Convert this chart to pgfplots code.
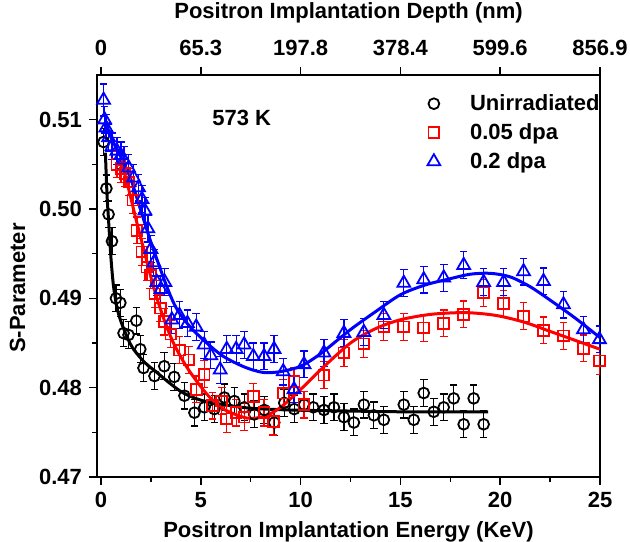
\documentclass[border=0pt]{standalone}
\usepackage{pgfplots}
\pgfplotsset{compat=1.18}
\usepackage{fontspec}
\setmainfont{Liberation Sans}
\begin{document}
\begin{tikzpicture}
\tikzset{myfont/.style={font=\fontsize{11}{12}\selectfont\bfseries}}
\pgfplotsset{
  dataerr/.style={error bars/.cd, y dir=both, y explicit,
     error bar style={line width=0.6pt},
     error mark options={rotate=90, line width=0.6pt, mark size=1.9pt, #1}},
  mylegimg/.style={legend image code/.code={%
     \path (0cm,0cm) (0.6cm,0cm);
     \draw[##1] plot coordinates {(0.05cm,0cm)};}},
}
\begin{axis}[name=ax, scale only axis, width=251.5pt, height=201pt,
  xmin=-0.2, xmax=25, ymin=0.47, ymax=0.515,
  xtick={0,5,10,15,20,25}, minor x tick num=1,
  ytick={0.47,0.48,0.49,0.50,0.51}, minor y tick num=1,
  xtick pos=lower, ytick pos=left, tick align=outside,
  major tick length=4pt, minor tick length=2.5pt,
  every tick/.style={black, line width=0.8pt},
  axis line style={line width=0.8pt},
  scaled y ticks=false,
  yticklabel style={/pgf/number format/.cd, fixed, fixed zerofill, precision=2},
  /pgf/number format/assume math mode=true,
  tick label style={myfont},
  label style={myfont},
  xlabel={Positron Implantation Energy (KeV)},
  ylabel={S-Parameter},
  ylabel style={at={(ticklabel cs:0.47)}},
  legend style={at={(1.02,0.973)}, anchor=north east, draw=none, fill=none, myfont, row sep=1pt},
  legend cell align=left,
]
\addplot[mylegimg, only marks, black, mark=o, mark size=2.7pt, line width=0.9pt, dataerr=black] coordinates {
(0.13,0.5075) +- (0,0.0015)
(0.27,0.5023) +- (0,0.0015)
(0.38,0.4994) +- (0,0.0015)
(0.55,0.4964) +- (0,0.0015)
(0.75,0.4900) +- (0,0.0015)
(0.97,0.4895) +- (0,0.0015)
(1.13,0.4861) +- (0,0.0015)
(1.38,0.4859) +- (0,0.0015)
(1.77,0.4875) +- (0,0.0015)
(1.97,0.4843) +- (0,0.0015)
(2.13,0.4822) +- (0,0.0015)
(2.68,0.4813) +- (0,0.0015)
(3.17,0.4824) +- (0,0.0015)
(3.67,0.4812) +- (0,0.0015)
(4.18,0.4791) +- (0,0.0015)
(4.68,0.4772) +- (0,0.0015)
(5.18,0.4778) +- (0,0.0015)
(5.68,0.4776) +- (0,0.0015)
(6.18,0.4789) +- (0,0.0015)
(6.68,0.4785) +- (0,0.0015)
(7.18,0.4778) +- (0,0.0015)
(7.68,0.4770) +- (0,0.0015)
(8.18,0.4775) +- (0,0.0015)
(8.68,0.4761) +- (0,0.0015)
(9.18,0.4783) +- (0,0.0015)
(9.68,0.4776) +- (0,0.0015)
(10.18,0.4781) +- (0,0.0015)
(10.63,0.4778) +- (0,0.0015)
(11.17,0.4775) +- (0,0.0015)
(11.67,0.4778) +- (0,0.0015)
(12.17,0.4767) +- (0,0.0015)
(12.67,0.4761) +- (0,0.0015)
(13.17,0.4781) +- (0,0.0015)
(13.67,0.4769) +- (0,0.0015)
(14.17,0.4764) +- (0,0.0015)
(15.17,0.4781) +- (0,0.0015)
(15.67,0.4764) +- (0,0.0015)
(16.17,0.4794) +- (0,0.0015)
(16.67,0.4773) +- (0,0.0015)
(17.17,0.4778) +- (0,0.0015)
(17.67,0.4788) +- (0,0.0015)
(18.17,0.4759) +- (0,0.0015)
(18.67,0.4788) +- (0,0.0015)
(19.17,0.4759) +- (0,0.0015)
};
\addlegendentry{Unirradiated}
\addplot[mylegimg, only marks, red, mark=square, mark size=2.7pt, line width=0.9pt, dataerr=red] coordinates {
(0.80,0.5050) +- (0,0.0015)
(1.00,0.5045) +- (0,0.0015)
(1.20,0.5040) +- (0,0.0015)
(1.40,0.5030) +- (0,0.0015)
(1.60,0.5010) +- (0,0.0015)
(1.80,0.4976) +- (0,0.0015)
(2.05,0.4952) +- (0,0.0015)
(2.30,0.4935) +- (0,0.0015)
(2.47,0.4926) +- (0,0.0015)
(2.70,0.4905) +- (0,0.0015)
(2.97,0.4889) +- (0,0.0015)
(3.17,0.4874) +- (0,0.0015)
(3.50,0.4860) +- (0,0.0015)
(3.93,0.4842) +- (0,0.0015)
(4.40,0.4831) +- (0,0.0015)
(4.77,0.4798) +- (0,0.0015)
(5.17,0.4815) +- (0,0.0015)
(5.58,0.4780) +- (0,0.0015)
(6.05,0.4785) +- (0,0.0015)
(6.30,0.4765) +- (0,0.0015)
(6.77,0.4772) +- (0,0.0015)
(7.17,0.4767) +- (0,0.0015)
(7.63,0.4790) +- (0,0.0015)
(8.17,0.4772) +- (0,0.0015)
(8.63,0.4762) +- (0,0.0015)
(9.13,0.4794) +- (0,0.0015)
(9.67,0.4807) +- (0,0.0015)
(10.17,0.4781) +- (0,0.0015)
(11.17,0.4814) +- (0,0.0015)
(12.17,0.4839) +- (0,0.0015)
(13.17,0.4849) +- (0,0.0015)
(14.17,0.4868) +- (0,0.0015)
(15.17,0.4868) +- (0,0.0015)
(16.17,0.4867) +- (0,0.0015)
(17.17,0.4872) +- (0,0.0015)
(18.17,0.4882) +- (0,0.0015)
(19.17,0.4906) +- (0,0.0015)
(20.17,0.4894) +- (0,0.0015)
(21.17,0.4880) +- (0,0.0015)
(22.17,0.4864) +- (0,0.0015)
(23.17,0.4858) +- (0,0.0015)
(24.17,0.4844) +- (0,0.0015)
(24.97,0.4830) +- (0,0.0015)
};
\addlegendentry{0.05 dpa}
\addplot[mylegimg, only marks, blue, mark=triangle, mark size=3.7pt, line width=0.9pt, dataerr=blue] coordinates {
(0.13,0.5122) +- (0,0.0018)
(0.18,0.5100) +- (0,0.0015)
(0.25,0.5091) +- (0,0.0015)
(0.38,0.5080) +- (0,0.0015)
(0.55,0.5070) +- (0,0.0015)
(0.80,0.5065) +- (0,0.0015)
(1.00,0.5060) +- (0,0.0015)
(1.15,0.5055) +- (0,0.0015)
(1.38,0.5046) +- (0,0.0015)
(1.63,0.5035) +- (0,0.0015)
(1.88,0.5024) +- (0,0.0015)
(2.05,0.5011) +- (0,0.0015)
(2.20,0.4998) +- (0,0.0015)
(2.35,0.4978) +- (0,0.0015)
(2.50,0.4955) +- (0,0.0015)
(2.65,0.4940) +- (0,0.0015)
(2.80,0.4918) +- (0,0.0015)
(3.00,0.4910) +- (0,0.0015)
(3.20,0.4918) +- (0,0.0015)
(3.55,0.4876) +- (0,0.0015)
(3.93,0.4881) +- (0,0.0015)
(4.33,0.4872) +- (0,0.0015)
(4.77,0.4868) +- (0,0.0015)
(5.17,0.4848) +- (0,0.0015)
(5.50,0.4836) +- (0,0.0015)
(5.97,0.4820) +- (0,0.0015)
(6.30,0.4843) +- (0,0.0015)
(6.77,0.4843) +- (0,0.0015)
(7.17,0.4848) +- (0,0.0015)
(7.63,0.4835) +- (0,0.0015)
(8.17,0.4835) +- (0,0.0015)
(8.67,0.4843) +- (0,0.0015)
(9.13,0.4818) +- (0,0.0015)
(9.67,0.4798) +- (0,0.0015)
(10.17,0.4826) +- (0,0.0015)
(11.17,0.4839) +- (0,0.0015)
(12.17,0.4861) +- (0,0.0015)
(13.17,0.4862) +- (0,0.0015)
(14.17,0.4881) +- (0,0.0015)
(15.17,0.4917) +- (0,0.0015)
(16.17,0.4921) +- (0,0.0015)
(17.17,0.4923) +- (0,0.0015)
(18.17,0.4937) +- (0,0.0015)
(19.17,0.4918) +- (0,0.0015)
(20.17,0.4918) +- (0,0.0015)
(21.17,0.4930) +- (0,0.0015)
(22.17,0.4919) +- (0,0.0015)
(23.17,0.4893) +- (0,0.0015)
(24.17,0.4865) +- (0,0.0015)
(24.97,0.4854) +- (0,0.0015)
};
\addlegendentry{0.2 dpa}
\addplot[black, line width=1.5pt, smooth, forget plot] coordinates {
(0.22,0.5063) (0.3,0.5017) (0.38,0.4987) (0.5,0.4945) (0.63,0.4913) (0.8,0.4890)
(0.97,0.4876) (1.3,0.4857) (1.63,0.4843) (2.2,0.4828) (2.8,0.4817) (3.5,0.4804)
(4.13,0.4794) (5,0.4786) (6.13,0.4781) (7.5,0.4777) (9.47,0.4775) (12,0.4774)
(15,0.4773) (19.4,0.4773)
};
\addplot[red, line width=1.5pt, smooth, forget plot] coordinates {
(0.8,0.5049) (1.0,0.5049) (1.2,0.5038) (1.5,0.5012) (1.77,0.4987) (2.2,0.4950)
(2.63,0.4913) (3.1,0.4880) (3.63,0.4850) (4.3,0.4823) (4.97,0.4802) (5.5,0.4788)
(6.13,0.4776) (7.3,0.4766) (8.2,0.4768) (9.0,0.4778) (10.0,0.4798) (11.0,0.4820)
(12.5,0.4850) (13.75,0.4866) (15,0.4876) (16.5,0.4882) (18,0.4884) (19,0.4883)
(20,0.4880) (21.25,0.4873) (22.5,0.4863) (23.75,0.4853) (25,0.4843)
};
\addplot[blue, line width=1.5pt, smooth, forget plot] coordinates {
(0.25,0.5098) (0.5,0.5080) (1.0,0.5058) (1.5,0.5033) (2.0,0.4998) (2.5,0.4963)
(3.3,0.4913) (3.8,0.4888) (4.47,0.4868) (5.3,0.4850) (6.13,0.4835) (7.2,0.4823)
(8.13,0.4817) (9.0,0.4818) (10,0.4824) (11,0.4838) (12.5,0.4865) (13.75,0.4885)
(15,0.4904) (16.25,0.4915) (17.5,0.4922) (18.5,0.4927) (19.5,0.4928) (20.5,0.4924)
(21.5,0.4913) (22.5,0.4898) (23.75,0.4878) (25,0.4856)
};
\node[myfont] at (axis cs:7.05,0.5102) {573 K};
\end{axis}
\begin{axis}[scale only axis, width=251.5pt, height=201pt,
  xmin=-0.2, xmax=25, ymin=0.47, ymax=0.515,
  axis x line*=top, hide y axis,
  xtick={0,5,10,15,20,25},
  xticklabels={0,65.3,197.8,378.4,599.6,856.9},
  tick align=outside, major tick length=4pt,
  every tick/.style={black, line width=0.8pt},
  axis line style={line width=0.8pt},
  /pgf/number format/assume math mode=true,
  tick label style={myfont},
  xticklabel style={yshift=2pt},
  label style={myfont},
  xlabel style={yshift=2pt},
  xlabel={Positron Implantation Depth (nm)},
]
\end{axis}
\pgfresetboundingbox
\path ([xshift=-48.5pt,yshift=-32.5pt]ax.south west) rectangle ([xshift=15pt,yshift=37.5pt]ax.north east);
\end{tikzpicture}
\end{document}
